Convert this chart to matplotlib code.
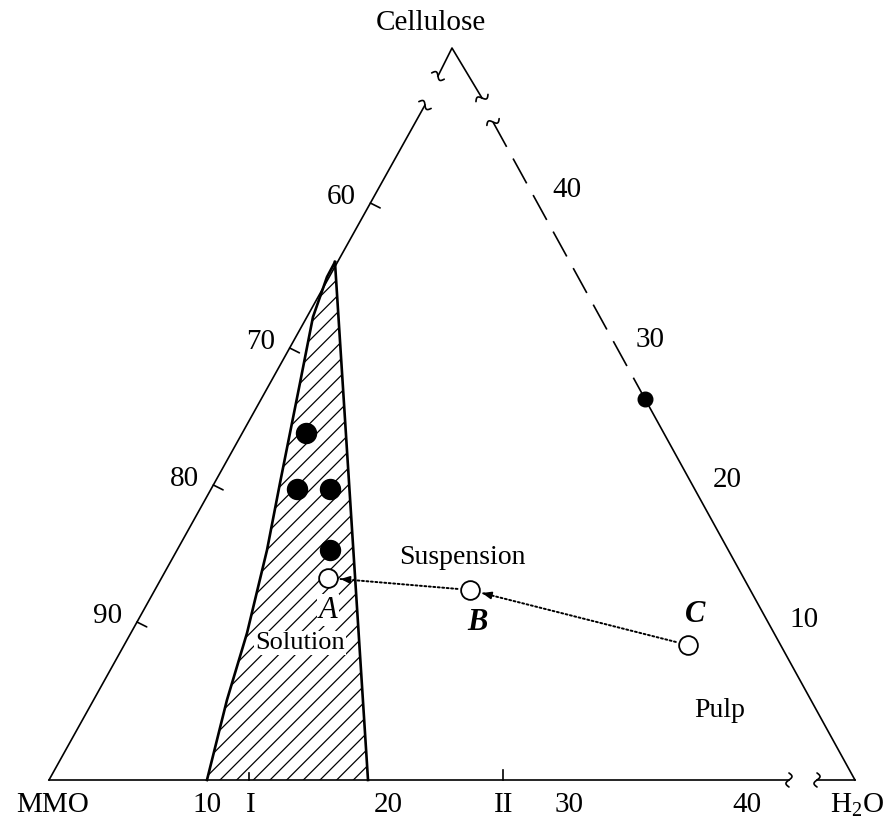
import numpy as np
import matplotlib
matplotlib.use("Agg")
import matplotlib.pyplot as plt
from matplotlib.patches import Polygon

plt.rcParams["font.family"] = ["Liberation Serif", "DejaVu Serif"]
plt.rcParams["mathtext.default"] = "regular"
plt.rcParams["hatch.linewidth"] = 0.9

# ── diagram coordinates: x = 0 (MMO corner) … 100 (H2O corner), y = 0 (base) … 100 (apex)
mmo = (0.0, 0.0)
h2o = (100.0, 0.0)
apex = (50.0, 100.0)
left_break = (46.65, 92.21)      # end of the lower left side
left_upper = (48.26, 96.17)      # start of the detached apex piece (left)
right_upper = (53.72, 93.17)     # end of the detached apex piece (right)
right_break = (55.09, 89.89)     # start of the dashed right side
right_dot = (73.95, 52.05)       # filled point on the right side
base_breaks = (91.81, 95.29)

# left side scale
left_tick_y = [78.82, 59.02, 40.30, 21.58]
left_tick_lbl = ["60", "70", "80", "90"]
# right side scale
right_lbl_y = [80.60, 60.11, 40.98, 21.86]
right_lbl = ["40", "30", "20", "10"]
# base labels
base_lbl_x = [0.4, 19.6, 25.06, 42.06, 56.45, 64.52, 86.6, 100.3]
base_lbl = ["MMO", "10", "I", "20", "II", "30", "40", "H$_2$O"]
base_ticks = {"I": (24.81, 0.95), "II": (56.33, 1.35)}

# solution (hatched) region
sol_left_x = [35.48, 34.49, 32.75, 31.14, 29.90, 28.66, 27.05, 24.57, 22.08, 19.60]
sol_left_y = [70.77, 68.72, 63.25, 54.23, 47.40, 40.57, 31.42, 20.08, 10.93, 0.0]
sol_right_x = [39.58]
sol_right_y = [0.0]

# experimental points
dots_x = [31.89, 30.77, 34.86, 34.86]
dots_y = [47.40, 39.75, 39.75, 31.42]
open_pts = {"A": (34.62, 27.60), "B": (52.23, 25.96), "C": (79.28, 18.44)}

fig = plt.figure(figsize=(8.91, 8.22), dpi=100)
ax = fig.add_axes([0, 0, 1, 1])
ax.set_xlim(-6.08, 104.47)
ax.set_ylim(-5.74, 106.56)
ax.axis("off")

K = "black"
LW = 1.2


def side_x(y):
    # x on the lower left side at height y
    return left_break[0] * y / left_break[1]


def squiggle(center, direction, length=14, amp=3.0):
    """small break mark across a line, drawn in pixel space"""
    c = ax.transData.transform(center)
    p2 = ax.transData.transform((center[0] + direction[0], center[1] + direction[1]))
    d = (p2 - c) / np.linalg.norm(p2 - c)
    n = np.array([-d[1], d[0]])
    t = np.linspace(-1, 1, 40)
    pts = c + np.outer(t * length / 2, n) + np.outer(amp * np.sin(np.pi * t), d)
    pts = ax.transData.inverted().transform(pts)
    ax.plot(pts[:, 0], pts[:, 1], color=K, lw=LW, solid_capstyle="round")


# triangle sides
ax.plot([mmo[0], left_break[0]], [mmo[1], left_break[1]], color=K, lw=LW)
ax.plot([left_upper[0], apex[0], right_upper[0]], [left_upper[1], apex[1], right_upper[1]],
        color=K, lw=LW)
ax.plot([right_break[0], right_dot[0]], [right_break[1], right_dot[1]], color=K, lw=LW,
        linestyle=(0, (17, 8)))
ax.plot([right_dot[0], h2o[0]], [right_dot[1], h2o[1]], color=K, lw=LW)
ax.plot([mmo[0], base_breaks[0]], [0, 0], color=K, lw=LW)
ax.plot([base_breaks[1], h2o[0]], [0, 0], color=K, lw=LW)

# break marks
ldir = (left_break[0], left_break[1])
rdir = (h2o[0] - right_break[0], h2o[1] - right_break[1])
squiggle(left_break, ldir)
squiggle(left_upper, (apex[0] - left_upper[0], apex[1] - left_upper[1]))
squiggle(right_upper, (right_upper[0] - apex[0], right_upper[1] - apex[1]))
squiggle(right_break, rdir)
for bx in base_breaks:
    squiggle((bx, 0.0), (1, 0))

# left side ticks and labels
for y, lbl in zip(left_tick_y, left_tick_lbl):
    x = side_x(y)
    ax.annotate("", xy=(x, y), xytext=(7, -3.5), textcoords="offset points",
                arrowprops=dict(arrowstyle="-", color=K, lw=LW, shrinkA=0, shrinkB=0))
    ax.annotate(lbl, xy=(x, y), xytext=(-21, 4), textcoords="offset points",
                ha="center", va="center", fontsize=21)

# right side labels
for y, lbl in zip(right_lbl_y, right_lbl):
    x = right_dot[0] + (h2o[0] - right_dot[0]) * (right_dot[1] - y) / right_dot[1]
    ax.annotate(lbl, xy=(x, y), xytext=(27, 0), textcoords="offset points",
                ha="center", va="center", fontsize=21)

# base ticks and labels
for name, (bx, h) in base_ticks.items():
    ax.plot([bx, bx], [0, h], color=K, lw=LW)
for x, lbl in zip(base_lbl_x, base_lbl):
    ax.text(x, -3.42, lbl, ha="center", va="center", fontsize=21)

ax.text(47.40, 103.41, "Cellulose", ha="center", va="center", fontsize=21)

# hatched solution region
sol = np.column_stack([sol_left_x + sol_right_x, sol_left_y + sol_right_y])
ax.add_patch(Polygon(sol, closed=True, facecolor="none", edgecolor=K, hatch="//",
                     lw=0, zorder=2))
ax.plot(sol_left_x, sol_left_y, color=K, lw=1.9, zorder=3)
ax.plot([sol_right_x[0], sol_left_x[0]], [sol_right_y[0], sol_left_y[0]], color=K, lw=1.9,
        zorder=3)

# dotted arrows C -> B -> A
def dotted_arrow(p_from, p_to, gap=9):
    ax.annotate("", xy=p_to, xytext=p_from,
                arrowprops=dict(arrowstyle="-", color=K, lw=1.4, linestyle=(0, (1, 1.3)),
                                shrinkA=gap, shrinkB=gap))
    a = ax.transData.transform(p_from)
    b = ax.transData.transform(p_to)
    d = (b - a) / np.linalg.norm(b - a)
    tip = ax.transData.inverted().transform(b - d * (gap / 0.72 * 1.0))
    tail = ax.transData.inverted().transform(b - d * (gap / 0.72 + 9))
    ax.annotate("", xy=tip, xytext=tail,
                arrowprops=dict(arrowstyle="-|>,head_length=0.55,head_width=0.22", color=K,
                                lw=1.2, shrinkA=0, shrinkB=0))


dotted_arrow(open_pts["B"], open_pts["A"])
dotted_arrow(open_pts["C"], open_pts["B"])

# points
ax.plot(dots_x, dots_y, "o", color=K, ms=14.4, zorder=4)
ax.plot(*right_dot, "o", color=K, ms=10.5, zorder=4)
for name, (x, y) in open_pts.items():
    ax.plot(x, y, "o", mfc="white", mec=K, mew=1.3, ms=13.5, zorder=4)

# labels
box = dict(facecolor="white", edgecolor="none", pad=1.0)
ax.text(34.62, 23.22, "A", ha="center", va="center", fontsize=22, style="italic",
        bbox=box, zorder=3)
ax.text(53.10, 21.58, "B", ha="center", va="center", fontsize=22, style="italic",
        weight="bold")
ax.text(80.15, 22.54, "C", ha="center", va="center", fontsize=22, style="italic",
        weight="bold")
ax.text(31.14, 18.72, "Solution", ha="center", va="center", fontsize=19, bbox=box, zorder=3)
ax.text(51.24, 30.46, "Suspension", ha="center", va="center", fontsize=20)
ax.text(83.25, 9.56, "Pulp", ha="center", va="center", fontsize=20)

fig.savefig("out.png", dpi=100)
